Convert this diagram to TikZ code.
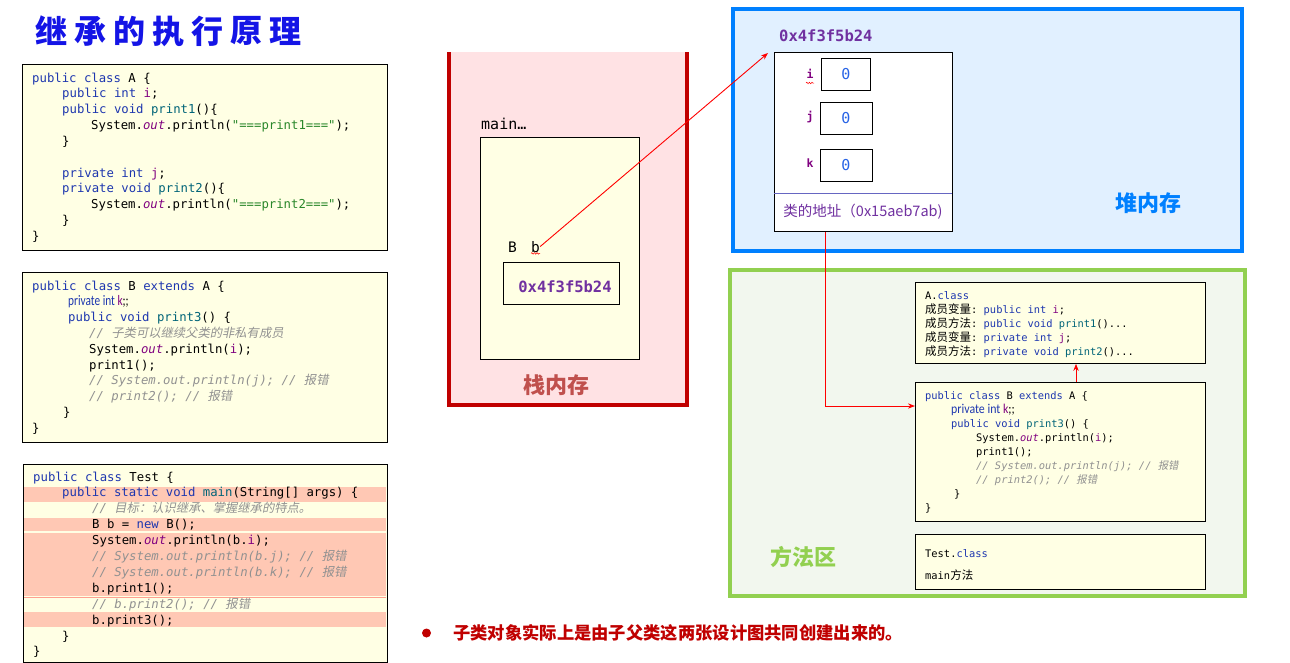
\documentclass[tikz,border=0pt]{standalone}
\usepackage{fontspec}
\usepackage{graphicx}
\usetikzlibrary{arrows.meta, decorations.pathmorphing}
\setmonofont{DejaVu Sans Mono}
\newfontfamily\cjk{Noto Sans CJK SC}
\newfontfamily\cjkit[FakeSlant=0.2]{Noto Sans CJK SC}
\newfontfamily\carlito{Carlito}

\definecolor{codebg}{RGB}{255,255,228}
\definecolor{kwblue}{RGB}{30,55,175}
\definecolor{methteal}{RGB}{0,100,120}
\definecolor{fldpurple}{RGB}{128,0,128}
\definecolor{strgreen}{RGB}{42,135,42}
\definecolor{cmtgray}{RGB}{145,145,145}
\definecolor{hlsalmon}{RGB}{255,200,180}
\definecolor{stackfill}{RGB}{255,226,228}
\definecolor{stackred}{RGB}{192,0,0}
\definecolor{stacklabel}{RGB}{192,80,77}
\definecolor{addrpurple}{RGB}{112,48,160}
\definecolor{heapfill}{RGB}{225,240,255}
\definecolor{heapblue}{RGB}{0,128,255}
\definecolor{zeroblue}{RGB}{40,100,230}
\definecolor{areafill}{RGB}{242,247,238}
\definecolor{areagreen}{RGB}{146,208,80}
\definecolor{titleblue}{RGB}{20,20,230}

% code colouring
\newcommand\kw[1]{\textcolor{kwblue}{#1}}
\newcommand\mth[1]{\textcolor{methteal}{#1}}
\newcommand\fld[1]{\textcolor{fldpurple}{#1}}
\newcommand\str[1]{\textcolor{strgreen}{#1}}
\newcommand\cmt[1]{\textcolor{cmtgray}{\itshape #1}}
\newcommand\outf{\textcolor{fldpurple}{\itshape out}}
% the narrow "private int k;;" line
\newcommand\kline[2]{\scalebox{#2}[1]{\carlito\fontsize{#1}{#1}\selectfont\kw{private int} \fld{k};;}}

\begin{document}
\begin{tikzpicture}[x=1pt, y=-1pt, >=Stealth]
    \tikzset{
        codebox/.style={draw=black, fill=codebg, line width=0.8pt},
        codetxt/.style={anchor=base west, inner sep=0pt, align=left,
            font=\ttfamily\fontsize{12.3}{15.85}\selectfont},
        smallcode/.style={codetxt, font=\ttfamily\fontsize{10.4}{14.1}\selectfont},
        cellbox/.style={draw=black, fill=white, line width=0.8pt, minimum width=49pt,
            minimum height=32pt, inner sep=0pt, text=zeroblue,
            font=\ttfamily\fontsize{15}{15}\selectfont},
        varlbl/.style={text=fldpurple, font=\ttfamily\bfseries\fontsize{11.5}{11.5}\selectfont},
        addr/.style={text=addrpurple, font=\ttfamily\bfseries\fontsize{15.5}{15.5}\selectfont},
        ptr/.style={->, red, line width=0.9pt},
        squiggle/.style={red, line width=0.5pt, decorate,
            decoration={snake, amplitude=0.8pt, segment length=2.6pt}},
        arealbl/.style={font=\cjk\bfseries\fontsize{22}{22}\selectfont},
    }
    \path[use as bounding box, fill=white] (0,0) rectangle (1290,662);

    % ================= Title =================
    \foreach \c [count=\n] in {继,承,的,执,行,原,理}
        \node[text=titleblue, font=\cjk\bfseries\fontsize{32}{32}\selectfont]
            (title\n) at ({51+(\n-1)*39}, 31) {\c};

    % ================= Source code: class A =================
    % (multi-line code nodes sit on the baseline of their last line)
    \node[codebox, minimum width=365pt, minimum height=186pt, anchor=north west] (boxA) at (22,64) {};
    \node[codetxt] (codeA) at (32,240.5) {%
        \kw{public class} A \{\\
        \hspace*{30pt}\kw{public int} \fld{i};\\
        \hspace*{30pt}\kw{public void} \mth{print1}()\{\\
        \hspace*{59pt}System.\outf.println(\str{"===print1==="});\\
        \hspace*{30pt}\}\\
        \strut\\
        \hspace*{30pt}\kw{private int} \fld{j};\\
        \hspace*{30pt}\kw{private void} \mth{print2}()\{\\
        \hspace*{59pt}System.\outf.println(\str{"===print2==="});\\
        \hspace*{30pt}\}\\
        \}};

    % ================= Source code: class B =================
    \node[codebox, minimum width=365pt, minimum height=170pt, anchor=north west] (boxB) at (22,272) {};
    \node[codetxt, font=\ttfamily\fontsize{12.3}{15.8}\selectfont] (codeB) at (32,432.2) {%
        \kw{public class} B \kw{extends} A \{\\
        \hspace*{36pt}\kline{14.5}{0.78}\\
        \hspace*{36pt}\kw{public void} \mth{print3}() \{\\
        \hspace*{57pt}\cmt{// {\cjkit 子类可以继续父类的非私有成员}}\\
        \hspace*{57pt}System.\outf.println(\fld{i});\\
        \hspace*{57pt}print1();\\
        \hspace*{57pt}\cmt{// System.out.println(j); // {\cjkit 报错}}\\
        \hspace*{57pt}\cmt{// print2(); // {\cjkit 报错}}\\
        \hspace*{31pt}\}\\
        \}};

    % ================= Source code: class Test =================
    \node[codebox, minimum width=364pt, minimum height=198pt, anchor=north west] (boxT) at (23,464) {};
    \fill[hlsalmon] (24,487) rectangle (386,502);
    \fill[hlsalmon] (24,518) rectangle (386,531);
    \fill[hlsalmon] (24,533) rectangle (386,596);
    \draw[hlsalmon!80!red, line width=0.6pt] (24,597.5) -- (386,597.5);
    \fill[hlsalmon] (24,612) rectangle (386,627);
    \node[codetxt, font=\ttfamily\fontsize{12.3}{15.9}\selectfont] (codeT) at (33,655.9) {%
        \kw{public class} Test \{\\
        \hspace*{29pt}\kw{public static void} \mth{main}(String[] args) \{\\
        \hspace*{59pt}\cmt{// {\cjkit 目标：认识继承、掌握继承的特点。}}\\
        \hspace*{59pt}B b = \kw{new} B();\\
        \hspace*{59pt}System.\outf.println(b.\fld{i});\\
        \hspace*{59pt}\cmt{// System.out.println(b.j); // {\cjkit 报错}}\\
        \hspace*{59pt}\cmt{// System.out.println(b.k); // {\cjkit 报错}}\\
        \hspace*{59pt}b.print1();\\
        \hspace*{59pt}\cmt{// b.print2(); // {\cjkit 报错}}\\
        \hspace*{59pt}b.print3();\\
        \hspace*{29pt}\}\\
        \}};

    % ================= Stack =================
    \fill[stackfill] (447,52) rectangle (689,407);
    \draw[stackred, line width=4pt] (449,52) -- (449,405) -- (687,405) -- (687,52);
    \node[anchor=base west, inner sep=0pt, font=\ttfamily\fontsize{15}{15}\selectfont] (mainlbl) at (481,129) {main…};
    \node[codebox, minimum width=159pt, minimum height=222pt, anchor=north west] (frame) at (480,137) {};
    \node[anchor=base west, inner sep=0pt, font=\ttfamily\fontsize{14.5}{14.5}\selectfont] (varB) at (508,252) {B};
    \node[anchor=base west, inner sep=0pt, font=\ttfamily\fontsize{14.5}{14.5}\selectfont] (varb) at (531,252) {b};
    \draw[squiggle] ([yshift=-1pt]varb.south west) -- ([yshift=-1pt]varb.south east);
    \node[codebox, minimum width=116pt, minimum height=42pt, anchor=north west] (refbox) at (503,262) {};
    \node[addr] (refval) at (565,287) {0x4f3f5b24};
    \node[text=stacklabel, arealbl] (stacklbl) at (556,385) {栈内存};

    % ================= Heap =================
    \draw[heapblue, line width=4pt, fill=heapfill] (733,9) rectangle (1242,251);
    \node[addr, anchor=west, inner sep=0pt] (objaddr) at (779,36) {0x4f3f5b24};
    \node[draw=black, fill=white, line width=0.8pt, minimum width=178pt, minimum height=179pt,
        anchor=north west] (obj) at (774,52) {};
    \draw[black!40!blue!60, line width=0.8pt] (774,193) -- (952,193);
    \node[cellbox] (celli) at (846,74) {0};
    \node[cellbox, minimum width=52pt] (cellj) at (846,118) {0};
    \node[cellbox, minimum width=52pt] (cellk) at (846,165) {0};
    \node[varlbl] (lbli) at (810,74) {i};
    \node[varlbl] (lblj) at (810,117) {j};
    \node[varlbl] (lblk) at (810,163) {k};
    \draw[squiggle] (806,83) -- (814,83);
    \node[text=addrpurple, font=\cjk\fontsize{14.5}{14.5}\selectfont] (clsaddr) at (863,212) {类的地址（0x15aeb7ab)};
    \node[text=heapblue, arealbl] (heaplbl) at (1148,203) {堆内存};

    % ================= Method area =================
    \draw[areagreen, line width=4pt, fill=areafill] (730,270) rectangle (1245,596);
    \node[codebox, minimum width=290pt, minimum height=81pt, anchor=north west] (acls) at (915,282) {};
    \node[smallcode] (acode) at (925,355.4) {%
        A.\kw{class}\\
        {\cjk\fontsize{11.5}{14.1}\selectfont 成员变量}: \kw{public int} \fld{i};\\
        {\cjk\fontsize{11.5}{14.1}\selectfont 成员方法}: \kw{public void} \mth{print1}()...\\
        {\cjk\fontsize{11.5}{14.1}\selectfont 成员变量}: \kw{private int} \fld{j};\\
        {\cjk\fontsize{11.5}{14.1}\selectfont 成员方法}: \kw{private void} \mth{print2}()...};
    \node[codebox, minimum width=290pt, minimum height=139pt, anchor=north west] (bcls) at (915,382) {};
    \node[smallcode] (bcode) at (925,511.8) {%
        \kw{public class} B \kw{extends} A \{\\
        \hspace*{26pt}\kline{13.5}{0.88}\\
        \hspace*{26pt}\kw{public void} \mth{print3}() \{\\
        \hspace*{51pt}System.\outf.println(\fld{i});\\
        \hspace*{51pt}print1();\\
        \hspace*{51pt}\cmt{// System.out.println(j); // {\cjkit 报错}}\\
        \hspace*{51pt}\cmt{// print2(); // {\cjkit 报错}}\\
        \hspace*{29pt}\}\\
        \}};
    \node[codebox, minimum width=290pt, minimum height=55pt, anchor=north west] (tcls) at (915,534) {};
    \node[smallcode] (tcode) at (925,579.1) {%
        Test.\kw{class}\\[8pt]
        main{\cjk\fontsize{11.5}{14.1}\selectfont 方法}};
    \node[text=areagreen, arealbl] (arealbl) at (803,557) {方法区};

    % ================= References =================
    \coordinate (elbow) at (825,406);
    \coordinate (upx) at (1076,0);
    \draw[ptr] (varb.east) -- ([xshift=-6pt,yshift=-1pt]obj.north west);
    \draw[ptr] (obj.south -| elbow) -- (elbow) -- (bcls.west |- elbow);
    \draw[ptr] (bcls.north -| upx) -- (acls.south -| upx);

    % ================= Note =================
    \fill[stackred] (426.5,633) circle (4.5);
    \node[anchor=west, inner sep=0pt, text=stackred, font=\cjk\bfseries\fontsize{17.3}{17.3}\selectfont]
        (note) at (453,633) {子类对象实际上是由子父类这两张设计图共同创建出来的。};
\end{tikzpicture}
\end{document}
